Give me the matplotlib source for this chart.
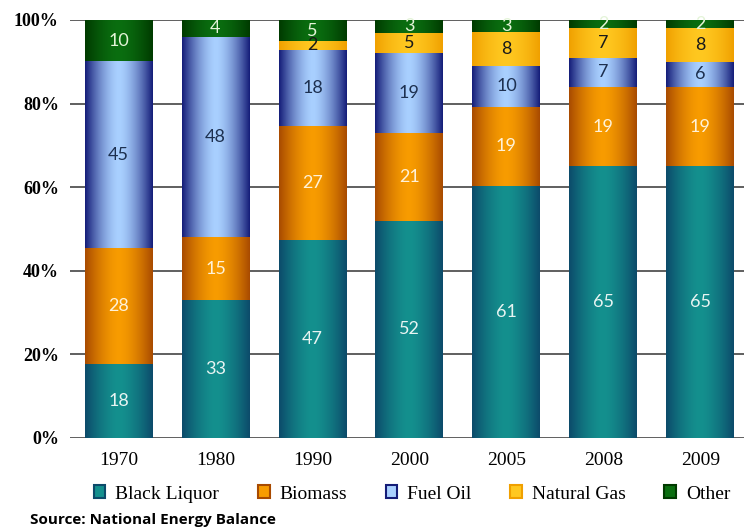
import numpy as np
import matplotlib
matplotlib.use("Agg")
import matplotlib.pyplot as plt
from matplotlib.colors import LinearSegmentedColormap
from matplotlib.patches import Patch

years = ["1970", "1980", "1990", "2000", "2005", "2008", "2009"]
series = ["Black Liquor", "Biomass", "Fuel Oil", "Natural Gas", "Other"]
black_liquor = [18, 33, 47, 52, 61, 65, 65]
biomass = [28, 15, 27, 21, 19, 19, 19]
fuel_oil = [45, 48, 18, 19, 10, 7, 6]
natural_gas = [0, 0, 2, 5, 8, 7, 8]
other = [10, 4, 5, 3, 3, 2, 2]
yticks = [0, 20, 40, 60, 80, 100]
ytick_labels = ["0%", "20%", "40%", "60%", "80%", "100%"]

data = np.array([black_liquor, biomass, fuel_oil, natural_gas, other], dtype=float)
pct = data / data.sum(axis=0) * 100

# (edge colour, centre colour, label colour)
styles = [
    ("#0c4a6a", "#14908e", "#e8f4f2"),
    ("#a84a00", "#f89c00", "#fff2d8"),
    ("#141c78", "#a9d0ff", "#1d3050"),
    ("#f0a000", "#ffc820", "#1a1a1a"),
    ("#003a00", "#0a6e10", "#e4f4d8"),
]

fig = plt.figure(figsize=(7.44, 5.32), dpi=100)
ax = fig.add_axes([70 / 744, 94 / 532, 674 / 744, 418 / 532])

x = np.arange(len(years))
width = 0.70
grad = np.linspace(0, 1, 200)
prof = 1 - np.abs(2 * grad - 1) ** 1.6
prof = prof[None, :]

bottom = np.zeros(len(years))
for i, name in enumerate(series):
    edge, centre, lc = styles[i]
    cmap = LinearSegmentedColormap.from_list(name, [edge, centre])
    bars = ax.bar(x, pct[i], width, bottom=bottom, color=centre, zorder=2,
                  linewidth=0)
    for j, b in enumerate(bars):
        h = b.get_height()
        if h <= 0:
            continue
        bx, by, bw = b.get_x(), b.get_y(), b.get_width()
        im = ax.imshow(prof, extent=[bx, bx + bw, by, by + h], cmap=cmap,
                       aspect="auto", zorder=3, vmin=0, vmax=1,
                       interpolation="bilinear")
        im.set_clip_path(b)
        ax.text(bx + bw / 2, by + h / 2, f"{int(data[i, j])}", ha="center",
                va="center", color=lc, fontsize=13, family="Lato",
                zorder=5)
    bottom += pct[i]

ax.set_xlim(-0.5, 6.45)
ax.set_ylim(0, 100)
ax.set_yticks(yticks)
ax.set_yticklabels(ytick_labels, family="Liberation Serif", fontsize=13,
                   fontweight="bold")
ax.set_xticks(x)
ax.set_xticklabels(years, family="Liberation Serif", fontsize=14)
ax.tick_params(axis="y", length=0, pad=8)
ax.tick_params(axis="x", length=0, pad=10)
ax.grid(axis="y", color="#444444", linewidth=1.2, zorder=0)
ax.set_axisbelow(True)
for s in ax.spines.values():
    s.set_visible(False)

handles = [Patch(facecolor=styles[i][1], edgecolor=styles[i][0], linewidth=1.5)
           for i in range(len(series))]
fig.legend(handles, series, loc="center", bbox_to_anchor=(412 / 744, 1 - 494 / 532),
           ncol=5, frameon=False, prop={"family": "Liberation Serif", "size": 14},
           handlelength=0.6, handleheight=0.6, handletextpad=0.5,
           columnspacing=2.0)

fig.text(30 / 744, 1 - 520 / 532, "Source: National Energy Balance",
         family="Open Sans", fontweight="bold", fontsize=11, va="center")

fig.savefig("out.png", dpi=100)
